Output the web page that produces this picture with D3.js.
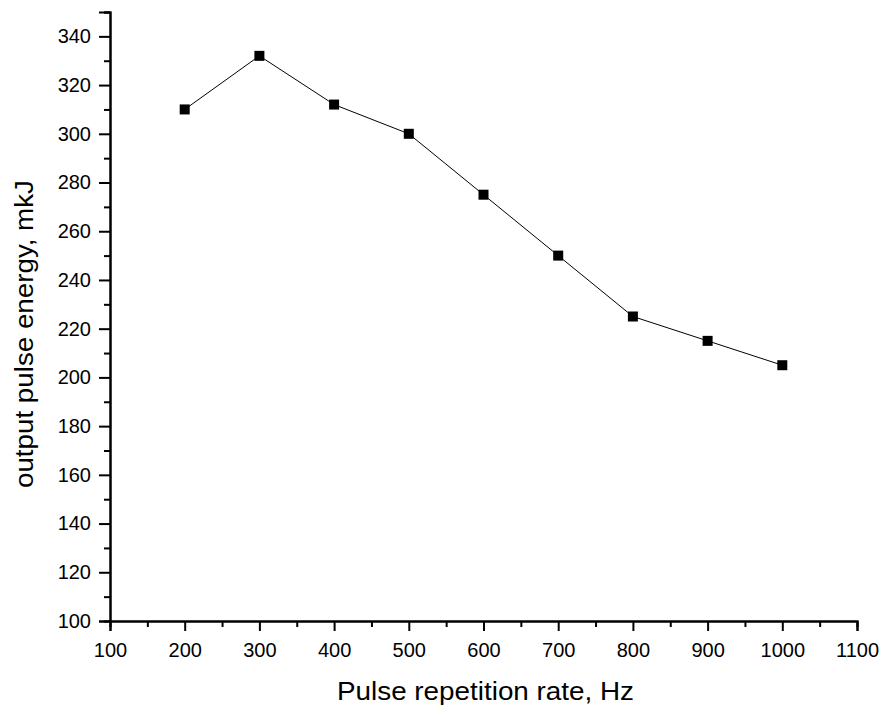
<!DOCTYPE html>
<html>
<head>
<meta charset="utf-8">
<script src="https://cdn.jsdelivr.net/npm/d3@7"></script>
<style>
  body { margin: 0; background: #fff; }
  text { font-family: "Liberation Sans", Arial, sans-serif; fill: #000; }
</style>
</head>
<body>
<div id="chart"></div>
<script>
// data
var rates = [200, 300, 400, 500, 600, 700, 800, 900, 1000];
var energies = [310, 332, 312, 300, 275, 250, 225, 215, 205];
var xTicks = [100, 200, 300, 400, 500, 600, 700, 800, 900, 1000, 1100];
var yTicks = [100, 120, 140, 160, 180, 200, 220, 240, 260, 280, 300, 320, 340];

var width = 890, height = 711;
var margin = {top: 12, right: 32, bottom: 90, left: 110};

var svg = d3.select("#chart").append("svg")
    .attr("width", width)
    .attr("height", height);

var x = d3.scaleLinear().domain([100, 1100]).range([margin.left, 857]);
var y = d3.scaleLinear().domain([100, 350]).range([621, margin.top]);

//minor ticks first, then the major axis on top
svg.append("g")
    .attr("transform", "translate(0," + y(100) + ")")
    .call(d3.axisBottom(x).tickValues(d3.range(150, 1100, 100)).tickSize(6).tickFormat(""));
svg.append("g")
    .attr("transform", "translate(" + x(100) + ",0)")
    .call(d3.axisLeft(y).tickValues(d3.range(110, 351, 20)).tickSize(6).tickFormat(""));

svg.append("g")
    .attr("transform", "translate(0," + y(100) + ")")
    .call(d3.axisBottom(x).tickValues(xTicks).tickSize(10).tickPadding(12).tickFormat(d3.format("d")));
svg.append("g")
    .attr("transform", "translate(" + x(100) + ",0)")
    .call(d3.axisLeft(y).tickValues(yTicks).tickSize(11).tickPadding(8).tickFormat(d3.format("d")));

svg.selectAll(".domain").attr("stroke-width", 2).attr("stroke", "#000");
svg.selectAll(".tick line").attr("stroke-width", 2).attr("stroke", "#000");
svg.selectAll(".tick text").style("font-size", "20px").attr("fill", "#000");

var points = rates.map(function (r, i) { return {x: r, y: energies[i]}; });

svg.append("path")
    .datum(points)
    .attr("fill", "none")
    .attr("stroke", "#000")
    .attr("stroke-width", 1)
    .attr("d", d3.line().x(function (d) { return x(d.x); }).y(function (d) { return y(d.y); }));

svg.selectAll("rect.marker").data(points)
    .enter().append("rect")
    .attr("class", "marker")
    .attr("x", function (d) { return x(d.x) - 5; })
    .attr("y", function (d) { return y(d.y) - 5; })
    .attr("width", 10)
    .attr("height", 10)
    .attr("fill", "#000");

svg.append("text")
    .attr("x", 337)
    .attr("y", 700)
    .attr("textLength", 297)
    .attr("lengthAdjust", "spacingAndGlyphs")
    .style("font-size", "25px")
    .text("Pulse repetition rate, Hz");

svg.append("text")
    .attr("transform", "translate(33,488) rotate(-90)")
    .attr("textLength", 308)
    .attr("lengthAdjust", "spacingAndGlyphs")
    .style("font-size", "26px")
    .text("output pulse energy, mkJ");
</script>
</body>
</html>
